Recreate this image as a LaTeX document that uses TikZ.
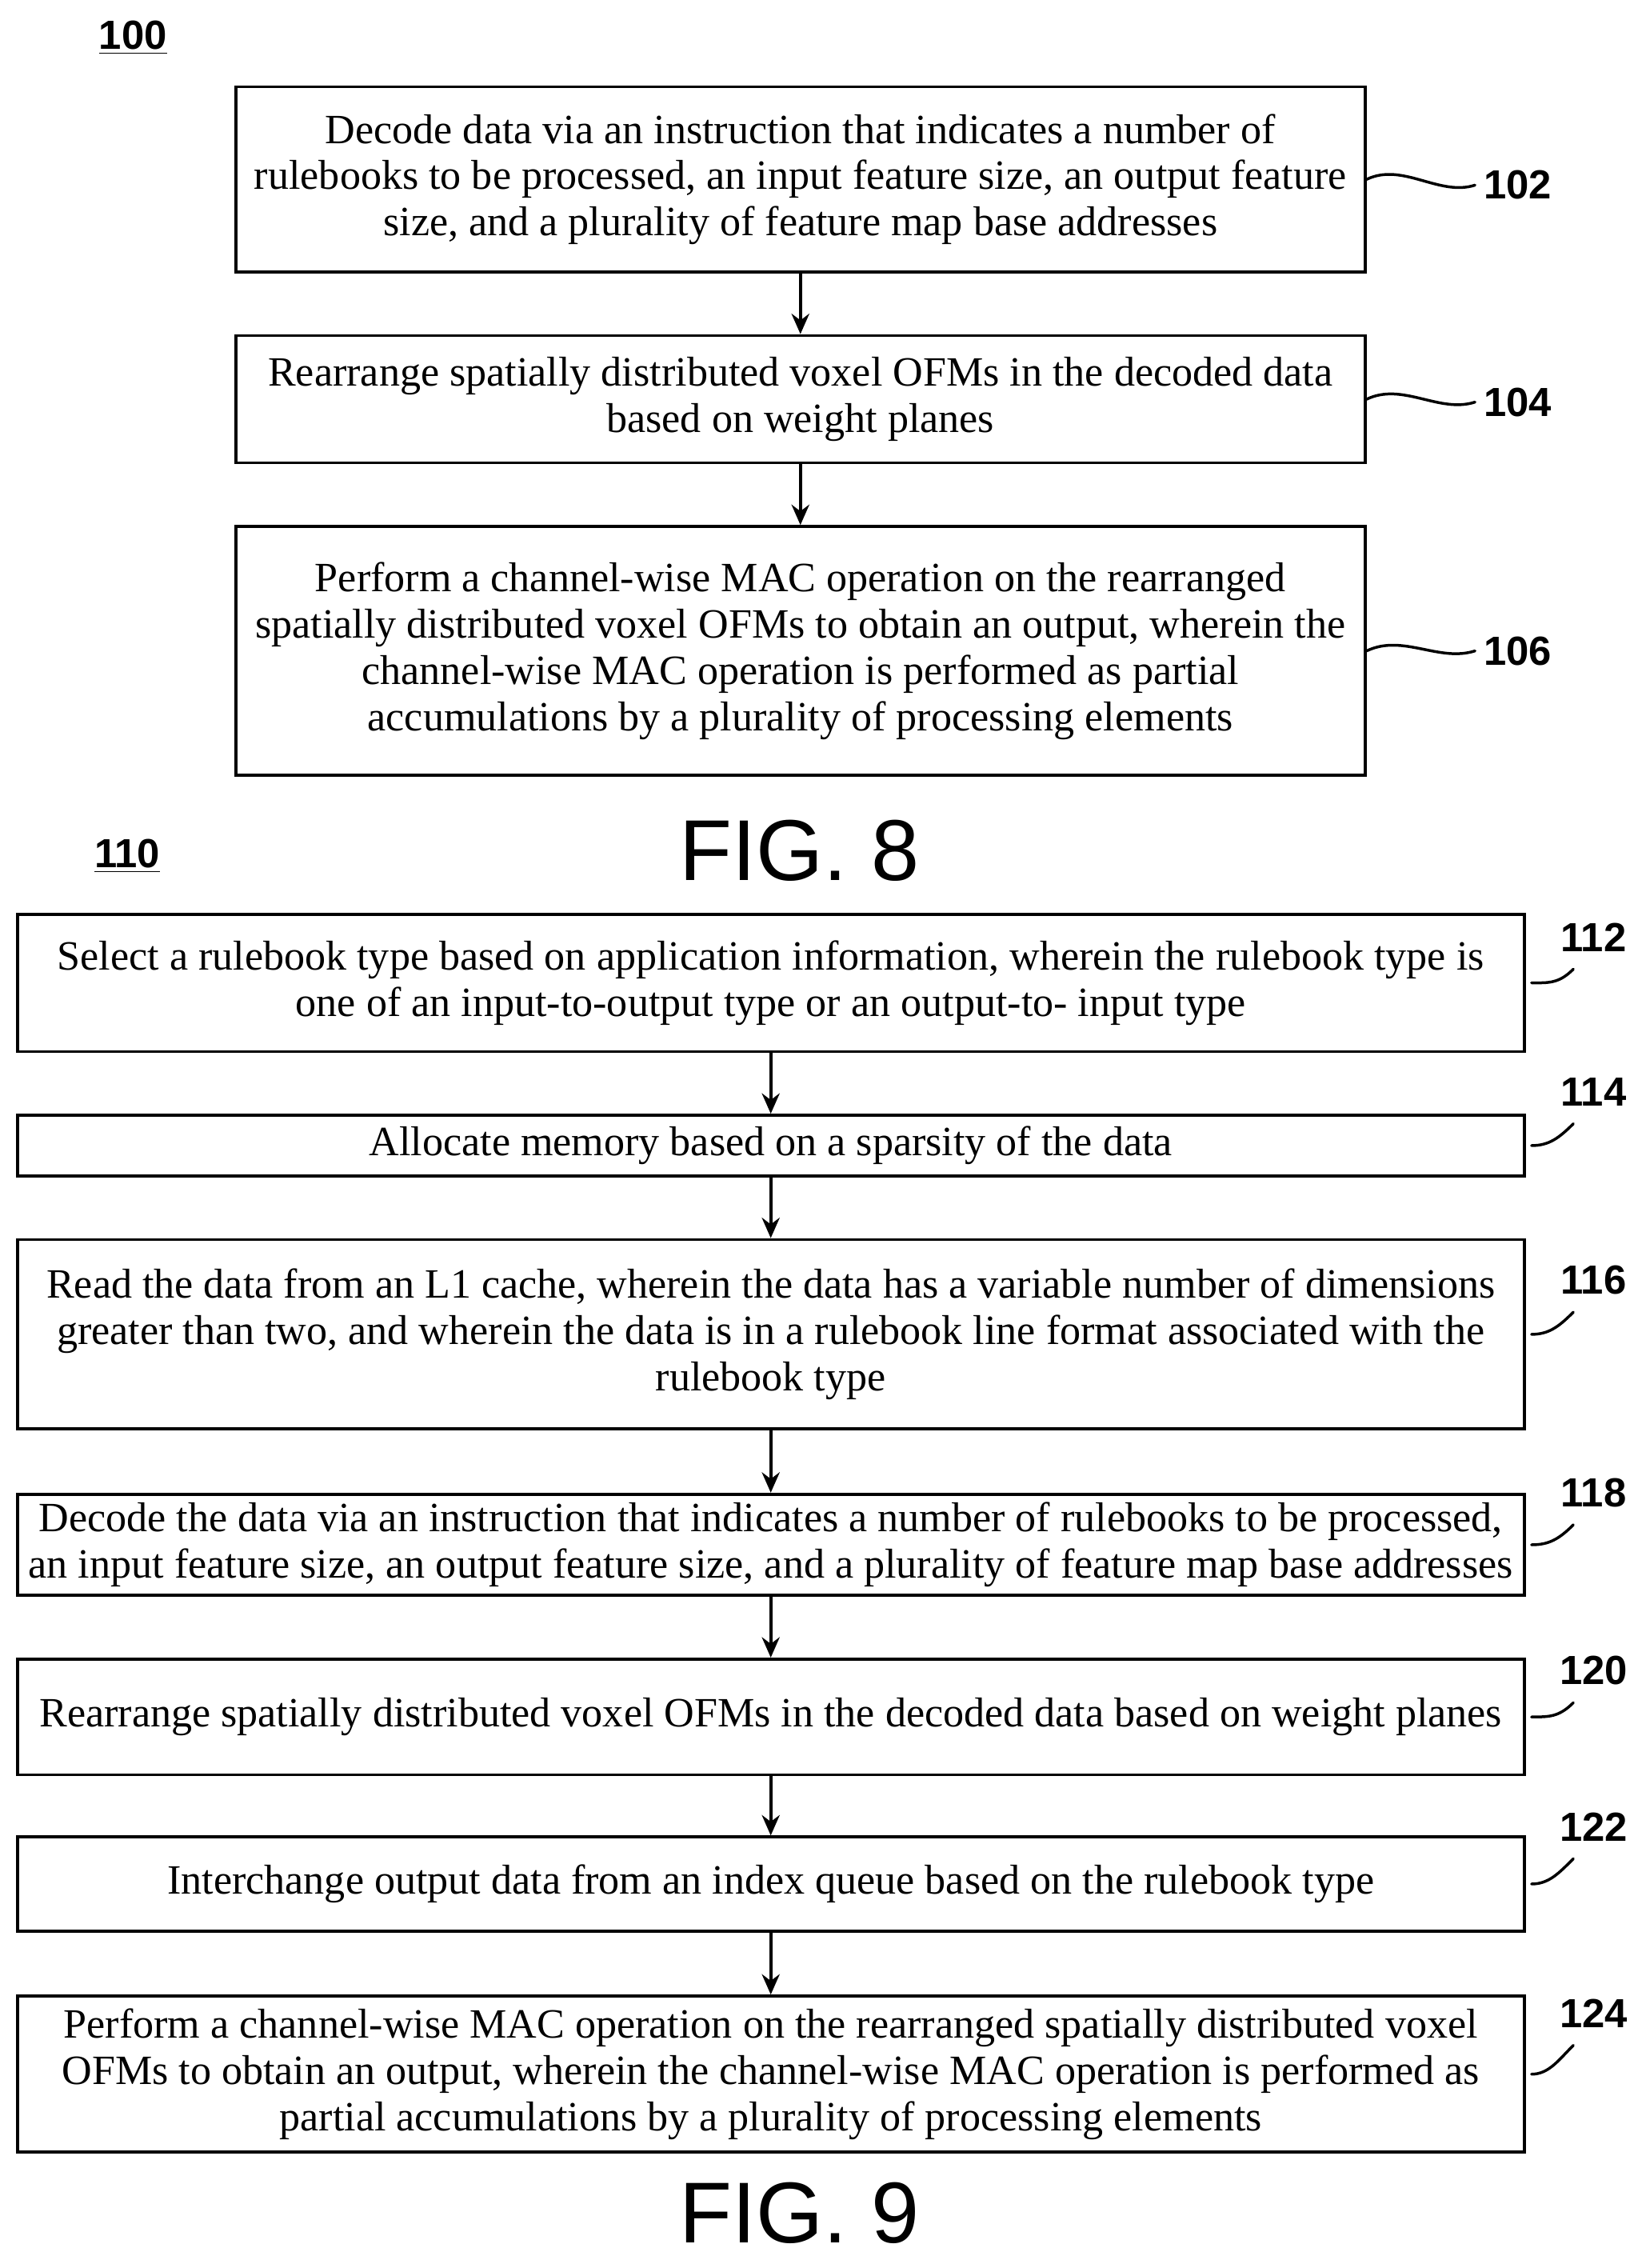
\documentclass[tikz,border=0pt]{standalone}
\usepackage{fontspec}
\setmainfont{Liberation Serif}
\newfontfamily\figfont{Liberation Sans}
\usetikzlibrary{positioning}
\tikzset{>=stealth,
  stepbox/.style={draw,line width=1.2pt,align=center,inner sep=0pt,
    font=\fontsize{16.4}{18.2}\selectfont},
  num/.style={font=\fontsize{16}{18}\selectfont\bfseries\figfont},
  flow/.style={-{Stealth[length=8pt,width=7pt]},line width=1.2pt},
  hook/.style={line width=1.1pt}}
\usetikzlibrary{arrows.meta}
\begin{document}
\begin{tikzpicture}[x=0.02cm,y=-0.02cm,line cap=round]
  \useasboundingbox (0,0) rectangle (1141,1568);

  % figure 8
  \node [num] (n100) at (92,26) {\underline{100}};
  \node [stepbox,minimum width=781*0.02cm,minimum height=128*0.02cm] (s102) at (553.5,124)
    {Decode data via an instruction that indicates a number of\\
     rulebooks to be processed, an input feature size, an output feature\\
     size, and a plurality of feature map base addresses};
  \node [stepbox,minimum width=781*0.02cm,minimum height=88*0.02cm] (s104) at (553.5,276)
    {Rearrange spatially distributed voxel OFMs in the decoded data\\
     based on weight planes};
  \node [stepbox,minimum width=781*0.02cm,minimum height=172*0.02cm] (s106) at (553.5,450)
    {Perform a channel-wise MAC operation on the rearranged\\
     spatially distributed voxel OFMs to obtain an output, wherein the\\
     channel-wise MAC operation is performed as partial\\
     accumulations by a plurality of processing elements};
  \node [num,anchor=west] (n102) at (1020,128) {102};
  \node [num,anchor=west] (n104) at (1020,278) {104};
  \node [num,anchor=west] (n106) at (1020,450) {106};
  \foreach \b in {102,104,106}
    \draw [hook] (s\b.east) .. controls +(25,-12) and +(-25,8) .. (n\b.west);
  \draw [flow] (s102) -- (s104);
  \draw [flow] (s104) -- (s106);
  \node [font=\fontsize{34}{38}\selectfont\figfont] (fig8) at (553,588) {FIG. 8};

  % figure 9
  \node [num] (n110) at (88,592) {\underline{110}};
  \node [stepbox,minimum width=1042*0.02cm,minimum height=95*0.02cm] (s112) at (533,679.5)
    {Select a rulebook type based on application information, wherein the rulebook type is\\
     one of an input-to-output type or an output-to- input type};
  \node [stepbox,minimum width=1042*0.02cm,minimum height=42*0.02cm] (s114) at (533,792)
    {Allocate memory based on a sparsity of the data};
  \node [stepbox,minimum width=1042*0.02cm,minimum height=131*0.02cm] (s116) at (533,922.5)
    {Read the data from an L1 cache, wherein the data has a variable number of dimensions\\
     greater than two, and wherein the data is in a rulebook line format associated with the\\
     rulebook type};
  \node [stepbox,minimum width=1042*0.02cm,minimum height=70*0.02cm] (s118) at (533,1068)
    {Decode the data via an instruction that indicates a number of rulebooks to be processed,\\
     an input feature size, an output feature size, and a plurality of feature map base addresses};
  \node [stepbox,minimum width=1042*0.02cm,minimum height=80*0.02cm] (s120) at (533,1187)
    {Rearrange spatially distributed voxel OFMs in the decoded data based on weight planes};
  \node [stepbox,minimum width=1042*0.02cm,minimum height=65*0.02cm] (s122) at (533,1302.5)
    {Interchange output data from an index queue based on the rulebook type};
  \node [stepbox,minimum width=1042*0.02cm,minimum height=108*0.02cm] (s124) at (533,1434)
    {Perform a channel-wise MAC operation on the rearranged spatially distributed voxel\\
     OFMs to obtain an output, wherein the channel-wise MAC operation is performed as\\
     partial accumulations by a plurality of processing elements};
  \node [num] (n112) at (1102,648) {112};
  \node [num] (n114) at (1102,755) {114};
  \node [num] (n116) at (1102,885) {116};
  \node [num] (n118) at (1102,1032) {118};
  \node [num] (n120) at (1102,1155) {120};
  \node [num] (n122) at (1102,1263) {122};
  \node [num] (n124) at (1102,1392) {124};
  \foreach \b in {112,114,116,118,120,122,124}
    \draw [hook] ([xshift=4*0.02cm]s\b.east) .. controls +(12,0) and +(-10,10) .. ([xshift=-14*0.02cm,yshift=-6*0.02cm]n\b.south);
  \foreach \a/\b in {112/114,114/116,116/118,118/120,120/122,122/124}
    \draw [flow] (s\a) -- (s\b);
  \node [font=\fontsize{34}{38}\selectfont\figfont] (fig9) at (553,1530) {FIG. 9};
\end{tikzpicture}
\end{document}
